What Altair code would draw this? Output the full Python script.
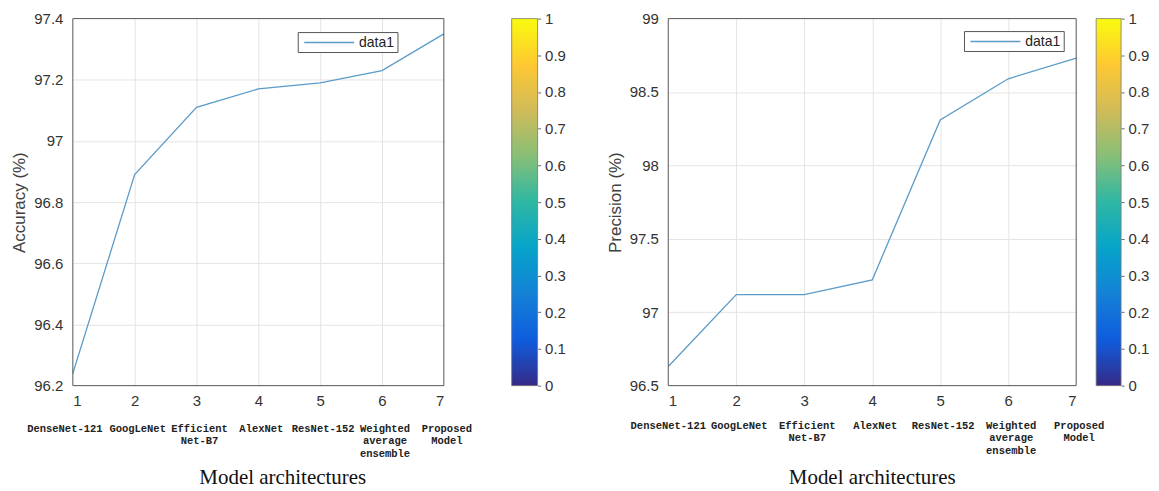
import altair as alt
import pandas as pd

# ---- data ----
x_idx = [1, 2, 3, 4, 5, 6, 7]
models = ["DenseNet-121", "GoogLeNet", "Efficient\nNet-B7", "AlexNet",
          "ResNet-152", "Weighted\naverage\nensemble", "Proposed\nModel"]
accuracy = [96.24, 96.89, 97.11, 97.17, 97.19, 97.23, 97.35]
precision = [96.63, 97.12, 97.12, 97.22, 98.31, 98.59, 98.73]
acc_ticks = [96.2, 96.4, 96.6, 96.8, 97.0, 97.2, 97.4]
prec_ticks = [96.5, 97.0, 97.5, 98.0, 98.5, 99.0]
cbar_ticks = [0, 0.1, 0.2, 0.3, 0.4, 0.5, 0.6, 0.7, 0.8, 0.9, 1.0]
series_name = ["data1"]
parula = ["#352a87", "#0f5cdd", "#1481d6", "#06a4ca", "#2eb7a4",
          "#87bf77", "#d1bb59", "#fec832", "#f9fb0e"]

LINE = "#5b9bc8"
H = 368


def panel(values, ticks, ytitle, width, cb_gap, cb_w, leg_x, leg_y, first_dx,
          title_x, names_y):
    df = pd.DataFrame({"x": x_idx, "y": values})
    xscale = alt.Scale(domain=[1, 7], nice=False)
    xaxis = alt.Axis(values=x_idx, format="d", title="Model architectures",
                     grid=True, ticks=False, domain=False,
                     gridOpacity={"condition": {"test": "datum.value <= 1 || datum.value >= 7",
                                                "value": 0}, "value": 1},
                     labelFontSize=15, labelPadding=8,
                     titleFont="Liberation Serif", titleFontSize=21,
                     titleFontWeight="normal", titleColor="#111",
                     titlePadding=58, titleX=title_x, titleAlign="center")
    lo, hi = ticks[0], ticks[-1]
    line = alt.Chart(df).mark_line(strokeWidth=1.3, color=LINE).encode(
        x=alt.X("x:Q", scale=xscale, axis=xaxis),
        y=alt.Y("y:Q", scale=alt.Scale(domain=[lo, hi], nice=False, zero=False),
                axis=alt.Axis(values=ticks, format="~f", title=ytitle, grid=True,
                              gridOpacity={"condition": {"test": f"datum.value <= {lo} || datum.value >= {hi}",
                                                         "value": 0}, "value": 1},
                              ticks=False, domain=False, labelFontSize=15,
                              labelPadding=10, titleFontSize=17,
                              titleFontWeight="normal", titleColor="#404040",
                              titlePadding=5)),
    )
    # plot frame
    one = pd.DataFrame({"name": series_name})
    frame = alt.Chart(one).mark_rect(fill=None, filled=False, stroke="#555",
                                     strokeWidth=1).encode(
        x=alt.value(0), x2=alt.value(width), y=alt.value(0), y2=alt.value(H))

    names_first = pd.DataFrame({"x": x_idx[:1], "name": models[:1]})
    names_rest = pd.DataFrame({"x": x_idx[1:], "name": models[1:]})
    tstyle = dict(font="Liberation Mono", fontWeight="bold", fontSize=10.5,
                  baseline="top", lineBreak="\n", lineHeight=13, color="#222")
    t1 = alt.Chart(names_first).mark_text(dx=first_dx, **tstyle).encode(
        x=alt.X("x:Q", scale=xscale, axis=xaxis), y=alt.value(names_y), text="name:N")
    t2 = alt.Chart(names_rest).mark_text(dx=3, **tstyle).encode(
        x=alt.X("x:Q", scale=xscale, axis=xaxis), y=alt.value(names_y), text="name:N")

    # legend box (MATLAB style)
    box = alt.Chart(one).mark_rect(fill="white", stroke="#555", strokeWidth=1).encode(
        x=alt.value(leg_x), x2=alt.value(leg_x + 100),
        y=alt.value(leg_y), y2=alt.value(leg_y + 20))
    lline = alt.Chart(one).mark_rule(color=LINE, strokeWidth=1.5).encode(
        x=alt.value(leg_x + 6), x2=alt.value(leg_x + 56),
        y=alt.value(leg_y + 10))
    ltext = alt.Chart(one).mark_text(align="left", baseline="middle", fontSize=14,
                                     color="#222", font="Liberation Sans").encode(
        x=alt.value(leg_x + 61), y=alt.value(leg_y + 10.5), text="name:N")

    grad = alt.Gradient(
        gradient="linear",
        stops=[alt.GradientStop(offset=i / (len(parula) - 1), color=c)
               for i, c in enumerate(parula)],
        x1=0, x2=0, y1=1, y2=0,
    )
    cb = alt.Chart(pd.DataFrame({"v0": [0.0], "v1": [1.0]})).mark_rect(
        fill=grad, stroke="#777", strokeWidth=0.8
    ).encode(
        x=alt.value(width + cb_gap),
        x2=alt.value(width + cb_gap + cb_w),
        y=alt.Y("v0:Q", scale=alt.Scale(domain=[0, 1], nice=False),
                axis=alt.Axis(orient="right", offset=cb_gap + cb_w, values=cbar_ticks,
                              format="~f", title=None, grid=False, domain=False,
                              ticks=True, tickSize=3, tickColor="#666",
                              labelFontSize=15, labelPadding=4)),
        y2="v1:Q",
    )
    return alt.layer(line, frame, t1, t2, box, lline, ltext, cb).resolve_scale(
        y="independent").properties(width=width, height=H)


left = panel(accuracy, acc_ticks, "Accuracy (%)", 372, 68, 26, 226, 14, -8, 210, H + 38)
right = panel(precision, prec_ticks, "Precision (%)", 409, 20, 25, 297, 13, 0, 204, H + 35)

chart = alt.hconcat(left, right, spacing=40).properties(
    padding={"left": 2, "top": 3, "right": 2, "bottom": 2}
).configure(
    font="Liberation Sans"
).configure_view(
    stroke=None
).configure_axis(
    labelFont="Liberation Sans", labelColor="#333", titleFont="Liberation Sans",
    gridColor="#e4e4e4", gridWidth=1
)

chart.save("out.html", embed_options={"renderer": "svg", "actions": False})
